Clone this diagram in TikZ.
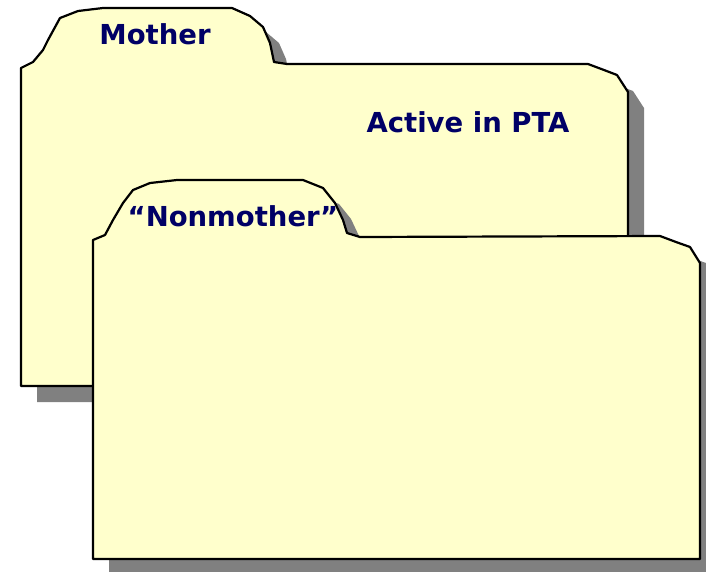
\documentclass[tikz,border=0pt]{standalone}
\usepackage{fontspec}
\setmainfont{DejaVu Sans}
\definecolor{folderfill}{RGB}{255,255,204}
\definecolor{shadowgray}{RGB}{128,128,128}
\definecolor{labelnavy}{RGB}{0,0,102}
\begin{document}
\begin{tikzpicture}[x=1pt,y=-1pt,
  foldershape/.style={fill=folderfill,draw=black,line width=2.2pt,line join=round},
  foldershadow/.style={fill=shadowgray,draw=none},
  foldertext/.style={text=labelnavy,font=\fontsize{27.5}{32}\selectfont\bfseries,inner sep=0pt}]
\useasboundingbox (0,0) rectangle (706,571);
\clip (0,0) rectangle (706,571);
\def\pathBack{(21,386) -- (21,68) -- (33,62) -- (43,50) -- (48,40) -- (60,18) -- (78,11) -- (103,8) -- (232,8) -- (250,16) -- (263,27) -- (270,43) -- (274,62) -- (287,64) -- (588,64) -- (604,70) -- (617,75) -- (628,92) -- (628,386) -- cycle}
\def\pathFront{(93,559) -- (93,240) -- (105,235) -- (113,220) -- (123,203) -- (133,190) -- (150,183) -- (177,180) -- (303,180) -- (323,188) -- (335,203) -- (343,220) -- (347,233) -- (360,237) -- (660,236) -- (676,242) -- (690,247) -- (700,263) -- (700,559) -- cycle}
% back folder
\fill[foldershadow,shift={(16,16)}] \pathBack;
\path[foldershape] \pathBack;
\node[foldertext] (mother) at (155,34) {Mother};
\node[foldertext] (pta) at (468,122) {Active in PTA};
% front folder
\fill[foldershadow,shift={(16,16)}] \pathFront;
\path[foldershape] \pathFront;
\node[foldertext] (nonmother) at (233,216) {“Nonmother”};
\end{tikzpicture}
\end{document}
